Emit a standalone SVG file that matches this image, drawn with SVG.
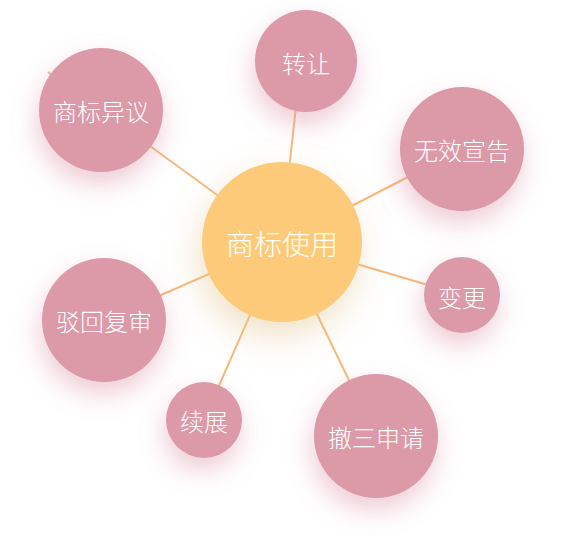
<svg xmlns="http://www.w3.org/2000/svg" width="564" height="558" viewBox="0 0 564 558">
<style>
.edge{stroke:#F6B777;stroke-width:2;fill:none}
.leaf circle{fill:#DC99A7}
.hub circle{fill:#FCCA78}
text{font-family:"Noto Sans CJK SC","Noto Sans",sans-serif;fill:#FFFFFF;text-anchor:middle;dominant-baseline:central;font-weight:300}
.leaf text{font-size:24px}
.hub text{font-size:28px}
</style>
<defs>
<filter id="shPink" x="-70%" y="-70%" width="240%" height="240%">
<feDropShadow dx="-2" dy="12" stdDeviation="13" flood-color="#D98CA0" flood-opacity="0.45"/>
</filter>
<filter id="shHub" x="-70%" y="-70%" width="240%" height="240%">
<feDropShadow dx="-4" dy="14" stdDeviation="16" flood-color="#E3C48E" flood-opacity="0.5"/>
</filter>
</defs>
<rect width="564" height="558" fill="#FFFFFF"/>
<g id="connectors">
<line class="edge" x1="282" y1="242" x2="48" y2="72"/>
<line class="edge" x1="281" y1="242" x2="301" y2="61"/>
<line class="edge" x1="282" y1="242" x2="462" y2="149"/>
<line class="edge" x1="282" y1="242" x2="462" y2="295"/>
<line class="edge" x1="282" y1="242" x2="376" y2="436"/>
<line class="edge" x1="282" y1="242" x2="204" y2="420"/>
<line class="edge" x1="282" y1="242" x2="104" y2="320"/>
</g>
<g id="node-yiyi" class="leaf"><circle cx="101" cy="110" r="62" filter="url(#shPink)"/><text x="101" y="110">商标异议</text></g>
<g id="node-zhuanrang" class="leaf"><circle cx="306" cy="61" r="51" filter="url(#shPink)"/><text x="306" y="62">转让</text></g>
<g id="node-wuxiao" class="leaf"><circle cx="462" cy="149" r="62" filter="url(#shPink)"/><text x="462" y="149">无效宣告</text></g>
<g id="node-biangeng" class="leaf"><circle cx="462" cy="295" r="38" filter="url(#shPink)"/><text x="462" y="296">变更</text></g>
<g id="node-chesan" class="leaf"><circle cx="376" cy="436" r="62" filter="url(#shPink)"/><text x="376" y="436">撤三申请</text></g>
<g id="node-xuzhan" class="leaf"><circle cx="204" cy="420" r="38" filter="url(#shPink)"/><text x="204" y="420">续展</text></g>
<g id="node-bohui" class="leaf"><circle cx="104" cy="320" r="62" filter="url(#shPink)"/><text x="104" y="320">驳回复审</text></g>
<g id="node-center" class="hub"><circle cx="282" cy="242" r="80" filter="url(#shHub)"/><text x="282" y="243">商标使用</text></g>
</svg>
